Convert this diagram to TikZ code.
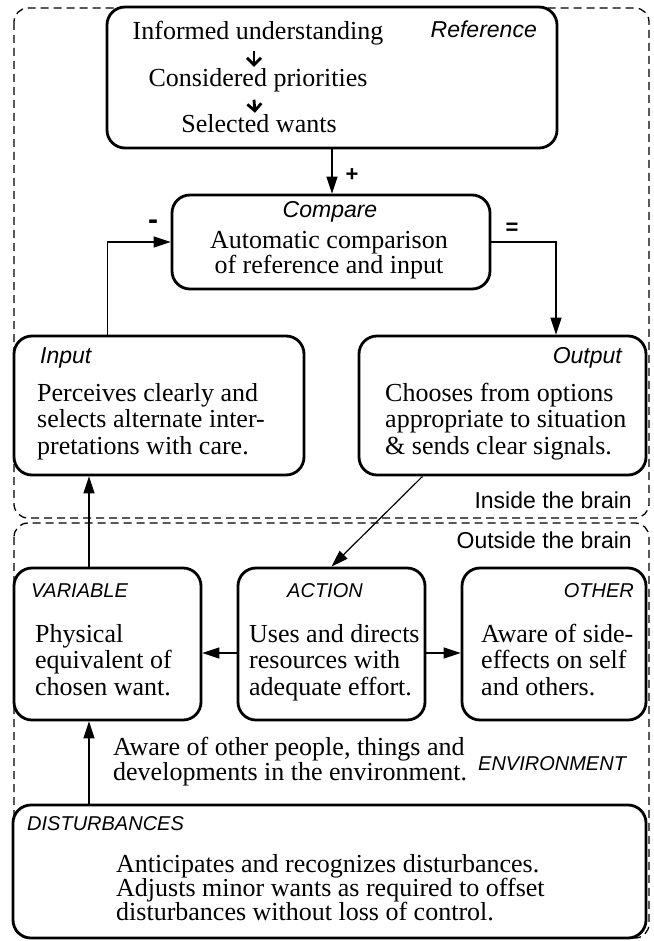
\documentclass[tikz,border=0pt]{standalone}
\usepackage{fontspec}
\setmainfont{Liberation Serif}
\setsansfont{Liberation Sans}
\usetikzlibrary{arrows.meta,positioning}

\begin{document}
\begin{tikzpicture}[x=1pt,y=-1pt,
	box/.style={draw, line width=2.8pt, rounded corners=18pt, fill=white, inner sep=0pt},
	region/.style={draw, line width=1.3pt, dash pattern=on 8pt off 5pt, rounded corners=14pt},
	conn/.style={line width=1.2pt, -{Triangle[length=17pt,width=11pt]}},
	smallarrow/.style={line width=2.8pt, -{Straight Barb[length=7pt,width=14pt]}},
	txt/.style={inner sep=0pt, align=left, font=\fontsize{26}{26.3}\selectfont},
	lbl/.style={inner sep=0pt, font=\fontsize{23}{23}\selectfont\sffamily\itshape},
	caps/.style={inner sep=0pt, font=\fontsize{20}{20}\selectfont\sffamily\itshape},
	regionlbl/.style={inner sep=0pt, font=\fontsize{23}{23}\selectfont\sffamily},
	sign/.style={inner sep=0pt, font=\fontsize{22}{22}\selectfont\sffamily\bfseries}]

	\useasboundingbox (0,0) rectangle (653,941);

	\draw[region] (14,8) rectangle (649,518);
	\draw[region] (14,523) rectangle (649,938);

	\node[box, minimum width=450pt, minimum height=141pt] (ref) at (332,77.5) {};
	\node[box, minimum width=318pt, minimum height=94pt] (cmp) at (331,242) {};
	\node[box, minimum width=290pt, minimum height=139pt] (inp) at (159,405.5) {};
	\node[box, minimum width=287pt, minimum height=139pt] (out) at (502.5,405.5) {};
	\node[box, minimum width=187pt, minimum height=152pt] (var) at (107.5,644) {};
	\node[box, minimum width=187pt, minimum height=152pt] (act) at (331.5,644) {};
	\node[box, minimum width=184pt, minimum height=152pt] (oth) at (554,644) {};

	\node[txt, anchor=base] (inf) at (258,40) {Informed understanding};
	\node[txt, anchor=base] (con) at (258,87) {Considered priorities};
	\node[txt, anchor=base] (sel) at (259,133) {Selected wants};
	\draw[smallarrow] ([xshift=-4pt,yshift=-5pt]inf.south) -- ([xshift=-4pt,yshift=2pt]con.north);
	\draw[smallarrow] ([xshift=-4pt,yshift=-7pt]con.south) -- ([xshift=-4pt,yshift=2pt]sel.north);
	\node[lbl, anchor=base east] (reflbl) at (537,38) {Reference};

	\node[lbl, anchor=base] (cmplbl) at (330,218) {Compare};
	\node[txt, anchor=base, align=center, font=\fontsize{26}{25}\selectfont] (cmptxt) at (329,273) {Automatic comparison\\of reference and input};

	\node[lbl, anchor=base west] (inplbl) at (40,363) {Input};
	\node[txt, anchor=base west] (inptxt) at (37,454) {Perceives clearly and\\selects alternate inter-\\pretations with care.};
	\node[lbl, anchor=base east] (outlbl) at (622,363) {Output};
	\node[txt, anchor=base west] (outtxt) at (385,454) {Chooses from options\\appropriate to situation\\\& sends clear signals.};

	\node[regionlbl, anchor=base east] (inside) at (632,508) {Inside the brain};
	\node[regionlbl, anchor=base east] (outside) at (632,548) {Outside the brain};

	\node[caps, anchor=base west] (varlbl) at (31,597) {VARIABLE};
	\node[txt, anchor=base west] (vartxt) at (35,695) {Physical\\equivalent of\\chosen want.};
	\node[caps, anchor=base] (actlbl) at (325,597) {ACTION};
	\node[txt, anchor=base west] (acttxt) at (249,695) {Uses and directs\\resources with\\adequate effort.};
	\node[caps, anchor=base east] (othlbl) at (634,597) {OTHER};
	\node[txt, anchor=base west] (othtxt) at (481,695) {Aware of side-\\effects on self\\and others.};

	\node[txt, anchor=base west, font=\fontsize{26}{23.5}\selectfont] (envtxt) at (113,780) {Aware of other people, things and\\developments in the environment.};
	\node[caps, anchor=base west] (envlbl) at (478,770) {ENVIRONMENT};

	\node[box, minimum width=633pt, minimum height=133pt] (dis) at (329.5,871.5) {};
	\node[caps, anchor=base west] (dislbl) at (27,830) {DISTURBANCES};
	\node[txt, anchor=base west, font=\fontsize{26}{24}\selectfont] (distxt) at (116,920) {Anticipates and recognizes disturbances.\\Adjusts minor wants as required to offset\\disturbances without loss of control.};

	\draw[conn] (ref.south) -- (ref.south |- cmp.north);
	\draw[conn] ([xshift=-51.5pt]inp.north) |- (cmp.west);
	\draw[conn] (cmp.east) -| ([xshift=53.5pt]out.north);
	\draw[conn] ([xshift=-80pt]out.south) -- (act.north);
	\draw[conn] ([xshift=-18.5pt]var.north) -- ([xshift=-18.5pt]var.north |- inp.south);
	\draw[conn] ([yshift=-9pt]act.west) -- ([yshift=-9pt]act.west -| var.east);
	\draw[conn] ([yshift=-9pt]act.east) -- ([yshift=-9pt]act.east -| oth.west);
	\draw[conn] ([xshift=-240.5pt]dis.north) -- ([xshift=-240.5pt]dis.north |- var.south);

	\node[sign] (plus) at (352,175) {+};
	\node[sign, font=\fontsize{30}{30}\selectfont\sffamily\bfseries] (minus) at (153,225) {-};
	\node[sign] (equal) at (512,229) {=};
\end{tikzpicture}
\end{document}
